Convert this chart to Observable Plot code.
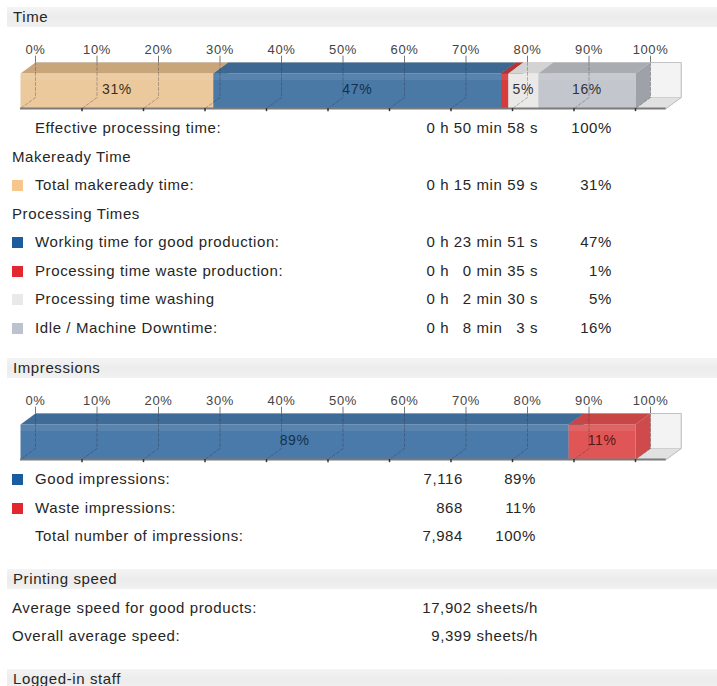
<!DOCTYPE html>
<html>
<head>
<meta charset="utf-8">
<script src="https://cdn.jsdelivr.net/npm/d3@7"></script>
<script src="https://cdn.jsdelivr.net/npm/@observablehq/plot@0.6"></script>
<style>
  html, body { margin: 0; padding: 0; background: #fff; }
  body { width: 717px; height: 686px; overflow: hidden; font-family: "Liberation Sans", Arial, sans-serif; font-size: 15px; letter-spacing: 0.6px; color: #262626; }
  .band { margin-left: 7px; height: 20px; line-height: 20px; background: linear-gradient(#f4f4f4, #ececec 50%, #f1f1f1); padding-left: 6px; }
  .row { position: relative; height: 28.5px; line-height: 28.5px; white-space: pre; }
  .row span { position: absolute; top: 0; }
  .sw { width: 11px; height: 11px; left: 12px; top: 9px !important; }
  .chart { height: 84px; margin-top: 3px; }
  .chart svg { display: block; }
</style>
</head>
<body>
<div class="band" style="margin-top:7px">Time</div>
<div class="chart" id="timeChart"></div>
<div id="timeRows"></div>
<div class="band" style="margin-top:16px">Impressions</div>
<div class="chart" id="impChart"></div>
<div id="impRows"></div>
<div class="band" style="margin-top:18px">Printing speed</div>
<div id="speedRows" style="margin-top:5px"></div>
<div class="band" style="margin-top:18px">Logged-in staff</div>

<script>
// ---------- data ----------
const tickValues = [0, 10, 20, 30, 40, 50, 60, 70, 80, 90, 100];

const timeCategories = ["Total makeready time:", "Working time for good production:", "Processing time waste production:", "Processing time washing", "Idle / Machine Downtime:"];
const timeSeconds = [959, 1431, 35, 150, 483];
const timeTexts = ["0 h 15 min 59 s", "0 h 23 min 51 s", "0 h \u20070 min 35 s", "0 h \u20072 min 30 s", "0 h \u20078 min \u20073 s"];
const timePercents = ["31%", "47%", "1%", "5%", "16%"];
const timeBarLabels = ["31%", "47%", "", "5%", "16%"];
const timeTotalText = "0 h 50 min 58 s";
const timeSwatch = ["#f6c68c", "#1b5c9e", "#e0282e", "#e9e9e9", "#bcc3cf"];
const timeFront = ["#ebc99c", "#4a79a6", "#d63c3c", "#ebe8e8", "#c3c7cd"];
const timeTop = ["#c9a57c", "#3c6892", "#b83232", "#d3d3d3", "#a9acb1"];
const timeSide = ["#c29d74", "#375f86", "#c23a3a", "#dcdcdc", "#9ea2a8"];
const timeLabelColor = ["#3a3020", "#14304f", "#333", "#333", "#333"];

const impCategories = ["Good impressions:", "Waste impressions:"];
const impValues = [7116, 868];
const impTexts = ["7,116", "868"];
const impPercents = ["89%", "11%"];
const impBarLabels = ["89%", "11%"];
const impTotalText = "7,984";
const impSwatch = ["#1b5c9e", "#e0282e"];
const impFront = ["#4a7aa9", "#e05656"];
const impTop = ["#3e6b97", "#c84646"];
const impSide = ["#3a6690", "#cf4a4a"];
const impLabelColor = ["#14304f", "#5a1616"];

const speedLabels = ["Average speed for good products:", "Overall average speed:"];
const speedTexts = ["17,902 sheets/h", "9,399 sheets/h"];

// ---------- 3D bar ----------
const W = 717, H = 84, ML = 20, MR = 82, MT = 32, MB = 6;
const pxPerUnit = (W - ML - MR) / 100;
const DX = 15 / pxPerUnit;          // depth offset in x units
const DY = 11 / (H - MT - MB - 11); // depth offset in y units (front face = 0..1)
const CONT = 105;                   // container length

function poly(points, fill, stroke = "none", extra = {}) {
  return Plot.line(points, {x: "x", y: "y", fill, stroke, curve: "linear-closed", strokeWidth: 0.7, ...extra});
}

function bar3d(values, front, top, side, labels, labelColors) {
  const total = d3.sum(values);
  let acc = 0;
  const segs = values.map((v, i) => {
    const x1 = acc / total * 100; acc += v; const x2 = acc / total * 100;
    return {i, x1, x2};
  });
  const marks = [];
  marks.push(poly([{x: DX, y: DY}, {x: CONT + DX, y: DY}, {x: CONT + DX, y: 1 + DY}, {x: DX, y: 1 + DY}], "#f3f3f3", "#c8c8c8"));
  marks.push(poly([{x: 0, y: 0}, {x: CONT, y: 0}, {x: CONT + DX, y: DY}, {x: DX, y: DY}], "#e1e1e1", "#c8c8c8"));
  for (const s of segs) {
    marks.push(poly([{x: s.x2, y: 0}, {x: s.x2 + DX, y: DY}, {x: s.x2 + DX, y: 1 + DY}, {x: s.x2, y: 1}], side[s.i]));
    marks.push(poly([{x: s.x1, y: 1}, {x: s.x2, y: 1}, {x: s.x2 + DX, y: 1 + DY}, {x: s.x1 + DX, y: 1 + DY}], top[s.i]));
    marks.push(poly([{x: s.x1, y: 0}, {x: s.x2, y: 0}, {x: s.x2, y: 1}, {x: s.x1, y: 1}], front[s.i]));
  }
  marks.push(Plot.rect([0], {x1: 0, x2: 100, y1: 0.8, y2: 0.97, fill: "#fff", fillOpacity: 0.08}));
  const grid = tickValues.flatMap(t => [{t, x: t + DX, y: 1 + DY}, {t, x: t + DX, y: DY}, {t, x: t, y: 0}]);
  marks.push(Plot.line(grid, {x: "x", y: "y", z: "t", stroke: "#2a2a3a", strokeOpacity: 0.4, strokeWidth: 0.8, strokeDasharray: "3,2"}));
  marks.push(Plot.line([{x: 100 + DX, y: 1 + DY}, {x: CONT + DX, y: 1 + DY}, {x: CONT + DX, y: DY}, {x: CONT, y: 0}], {x: "x", y: "y", stroke: "#bdbdbd", strokeWidth: 0.8}));
  marks.push(Plot.ruleY([0], {x1: 0, x2: CONT, stroke: "#7a7a7a", strokeWidth: 2}));
  marks.push(Plot.ruleX(tickValues.slice(1), {x: d => d, y1: 0, y2: -0.09, stroke: "#333", strokeWidth: 1.5}));
  marks.push(Plot.ruleX(tickValues, {x: d => d + DX, y1: 1 + DY, y2: 1 + DY + 0.18, stroke: "#555", strokeWidth: 0.8}));
  marks.push(Plot.text(tickValues, {x: d => d + DX, frameAnchor: "top", dy: -18, text: d => d + "%", fill: "#444", fontSize: 13}));
  marks.push(Plot.text(segs, {x: d => (d.x1 + d.x2) / 2, y: 0.55, text: d => labels[d.i], fill: d => labelColors[d.i], fontSize: 14}));

  return Plot.plot({
    width: W, height: H,
    marginLeft: ML, marginRight: MR, marginTop: MT, marginBottom: MB,
    x: {domain: [0, 100], axis: null},
    y: {domain: [0, 1 + DY], axis: null},
    style: {fontFamily: "Liberation Sans, Arial, sans-serif", background: "transparent", overflow: "visible"},
    marks
  });
}

document.getElementById("timeChart").append(bar3d(timeSeconds, timeFront, timeTop, timeSide, timeBarLabels, timeLabelColor));
document.getElementById("impChart").append(bar3d(impValues, impFront, impTop, impSide, impBarLabels, impLabelColor));

// ---------- text rows ----------
function row({swatch, label, labelX = 35, value, valueRight, pct, pctRight}) {
  const r = document.createElement("div");
  r.className = "row";
  if (swatch) {
    const s = document.createElement("span"); s.className = "sw"; s.style.background = swatch; r.append(s);
  }
  const l = document.createElement("span"); l.textContent = label; l.style.left = labelX + "px"; r.append(l);
  if (value != null) { const v = document.createElement("span"); v.textContent = value; v.style.right = (W - valueRight) + "px"; r.append(v); }
  if (pct != null) { const p = document.createElement("span"); p.textContent = pct; p.style.right = (W - pctRight) + "px"; r.append(p); }
  return r;
}

const tr = document.getElementById("timeRows");
tr.append(row({label: "Effective processing time:", value: timeTotalText, valueRight: 538, pct: "100%", pctRight: 612}));
tr.append(row({label: "Makeready Time", labelX: 12}));
tr.append(row({swatch: timeSwatch[0], label: timeCategories[0], value: timeTexts[0], valueRight: 538, pct: timePercents[0], pctRight: 612}));
tr.append(row({label: "Processing Times", labelX: 12}));
for (let i = 1; i < timeCategories.length; i++) {
  tr.append(row({swatch: timeSwatch[i], label: timeCategories[i], value: timeTexts[i], valueRight: 538, pct: timePercents[i], pctRight: 612}));
}

const ir = document.getElementById("impRows");
impCategories.forEach((c, i) => ir.append(row({swatch: impSwatch[i], label: c, value: impTexts[i], valueRight: 463, pct: impPercents[i], pctRight: 536})));
ir.append(row({label: "Total number of impressions:", value: impTotalText, valueRight: 463, pct: "100%", pctRight: 536}));

const sr = document.getElementById("speedRows");
speedLabels.forEach((c, i) => sr.append(row({label: c, labelX: 12, value: speedTexts[i], valueRight: 538})));
</script>
</body>
</html>
